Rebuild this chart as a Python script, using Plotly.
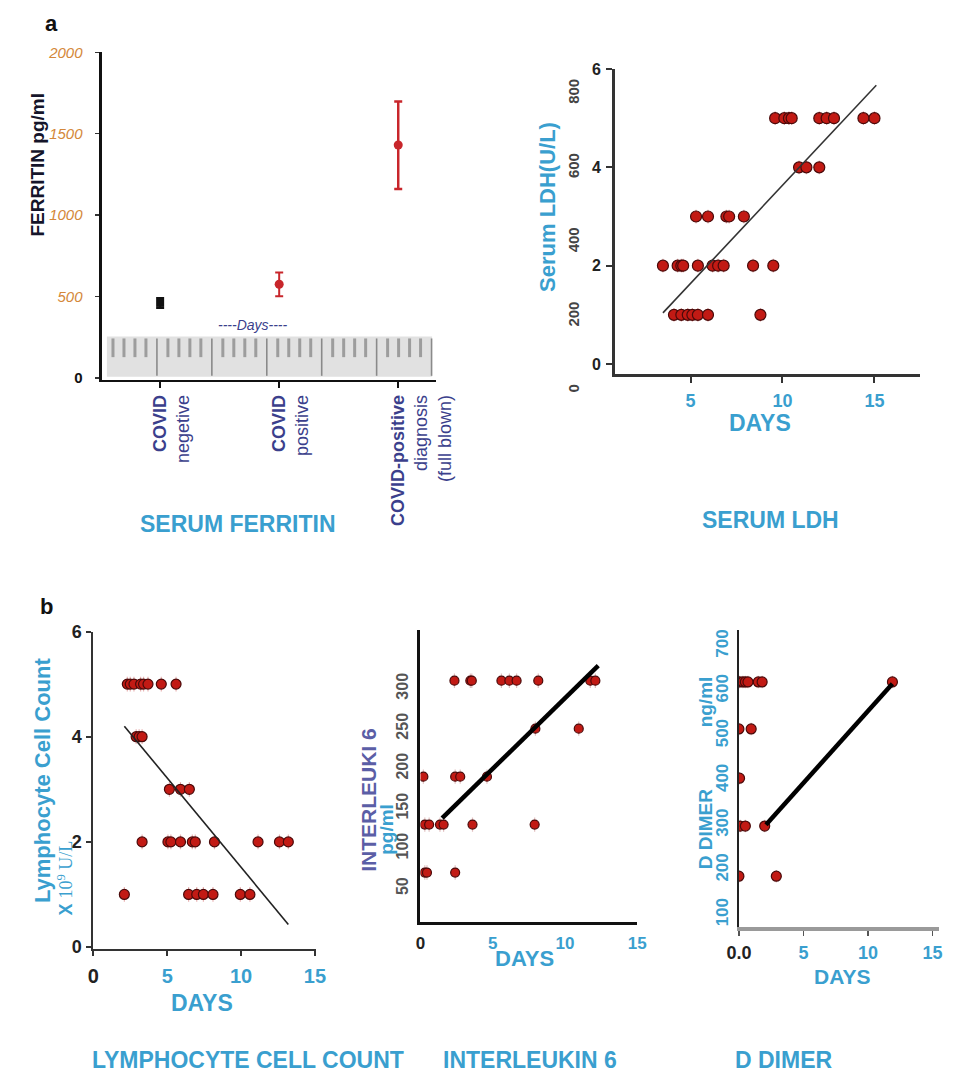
import plotly.graph_objects as go

W, H = 965, 1085

# ---------------- DATA ----------------
# Panel a (left): serum ferritin
ferritin_categories = ["<b>COVID</b><br>negetive",
                       "<b>COVID</b><br>positive",
                       "<b>COVID-positive</b><br>diagnosis<br>(full blown)"]
ferritin_mean = [460, 575, 1430]
ferritin_err_plus = [31, 72, 268]
ferritin_err_minus = [31, 74, 270]
ferritin_colors = ["#111111", "#c8262b", "#c8262b"]
ferritin_yticks = [0, 500, 1000, 1500, 2000]
ferritin_yticktext = ["0", "500", "1000", "1500", "2000"]

# Panel a (right): serum LDH
ldh_days = [9.6, 10.1, 10.35, 10.5, 12.0, 12.4, 12.8, 14.4, 15.0,
            10.9, 11.3, 12.0,
            5.3, 5.95, 6.95, 7.1, 7.9,
            3.5, 4.3, 4.5, 4.6, 5.4, 6.2, 6.5, 6.8, 8.4, 9.5,
            4.1, 4.5, 4.85, 5.1, 5.4, 5.95, 8.8]
ldh_vals = [5, 5, 5, 5, 5, 5, 5, 5, 5,
            4, 4, 4,
            3, 3, 3, 3, 3,
            2, 2, 2, 2, 2, 2, 2, 2, 2, 2,
            1, 1, 1, 1, 1, 1, 1]
ldh_fit_days = [3.5, 15.1]
ldh_fit_vals = [1.04, 5.67]
ldh_yticks = [0, 2, 4, 6]
ldh_xticks = [5, 10, 15]
ldh_u_ticks = [0, 200, 400, 600, 800]

# Panel b (left): lymphocyte count
lym_days = [2.3, 2.5, 2.75, 3.2, 3.4, 3.7, 4.6, 5.6,
            2.9, 3.1, 3.3,
            5.15, 5.9, 6.5,
            3.3, 5.05, 5.25, 5.9, 6.7, 6.9, 8.2, 11.15, 12.6, 13.2,
            2.1, 6.45, 7.0, 7.45, 8.1, 9.95, 10.6]
lym_vals = [5, 5, 5, 5, 5, 5, 5, 5,
            4, 4, 4,
            3, 3, 3,
            2, 2, 2, 2, 2, 2, 2, 2, 2, 2,
            1, 1, 1, 1, 1, 1, 1]
lym_fit_days = [2.1, 13.2]
lym_fit_vals = [4.2, 0.43]
lym_yticks = [0, 2, 4, 6]
lym_xticks = [0, 5, 10, 15]

# Panel b (middle): interleukin 6
il6_days = [2.35, 3.45, 3.55, 5.6, 6.15, 6.65, 8.15, 11.75, 12.1,
            7.95, 10.95,
            0.2, 2.4, 2.75, 4.6,
            0.3, 0.6, 1.35, 1.6, 3.6, 7.9,
            0.3, 0.45, 2.4]
il6_vals = [310, 310, 310, 310, 310, 310, 310, 310, 310,
            250, 250,
            190, 190, 190, 190,
            130, 130, 130, 130, 130, 130,
            70, 70, 70]
il6_fit_days = [1.5, 12.3]
il6_fit_vals = [138, 329]
il6_yticks = [50, 100, 150, 200, 250, 300]
il6_xticks = [0, 5, 10, 15]

# Panel b (right): D dimer
dd_days = [0.05, 0.3, 0.5, 0.7, 1.5, 1.8, 11.9,
           0.0, 0.95,
           0.05,
           0.1, 0.5, 2.0,
           0.0, 2.9]
dd_vals = [620, 620, 620, 620, 620, 620, 620,
           515, 515,
           405,
           298, 298, 298,
           186, 186]
dd_fit_days = [2.1, 11.9]
dd_fit_vals = [301, 616]
dd_yticks = [100, 200, 300, 400, 500, 600, 700]
dd_xticks = [0, 5, 10, 15]

# ---------------- HELPERS ----------------
def px(x):
    return x / W

def py(y):
    return 1 - y / H

def xdom(a, b):
    return [px(a), px(b)]

def ydom(top, bottom):
    return [py(bottom), py(top)]

CYAN = "#3a9fcf"
SLATE = "#3b3f8c"
RED = "#c21a14"
EDGE = "#4a0a0a"
BOLD = "Liberation Sans, Arial, sans-serif"
NARROW = "Liberation Sans Narrow, Arial Narrow, Liberation Sans, sans-serif"


def colored(vals, first_color, rest_color, fmt=str):
    out = []
    for i, v in enumerate(vals):
        c = first_color if i == 0 else rest_color
        out.append(f"<span style='color:{c}'><b>{fmt(v)}</b></span>")
    return out


def centred_first_line(label):
    # pad with blank lines so that the first line sits on the tick
    n_after = label.count("<br>")
    return "&nbsp;<br>" * n_after + label


fig = go.Figure()

# ---- Ferritin ----
fx = list(range(len(ferritin_categories)))
for i in fx:
    fig.add_trace(go.Scatter(
        x=[fx[i]], y=[ferritin_mean[i]], mode="markers",
        marker=dict(color=ferritin_colors[i], size=9 if i else 8,
                    symbol="square" if i == 0 else "circle"),
        error_y=dict(type="data", symmetric=False,
                     array=[ferritin_err_plus[i]], arrayminus=[ferritin_err_minus[i]],
                     color=ferritin_colors[i], thickness=2.5 if i == 2 else 2,
                     width=4),
        xaxis="x", yaxis="y", showlegend=False, cliponaxis=False))

# ---- LDH ----
fig.add_trace(go.Scatter(
    x=ldh_days, y=ldh_vals, mode="markers",
    marker=dict(color=RED, size=11, line=dict(color=EDGE, width=1.2)),
    error_y=dict(type="constant", value=0.14, color="rgba(215,120,120,0.55)",
                 thickness=1.2, width=0),
    xaxis="x2", yaxis="y2", showlegend=False))
fig.add_trace(go.Scatter(
    x=ldh_fit_days, y=ldh_fit_vals, mode="lines",
    line=dict(color="#333333", width=1.6),
    xaxis="x2", yaxis="y2", showlegend=False))

# ---- Lymphocyte ----
fig.add_trace(go.Scatter(
    x=lym_days, y=lym_vals, mode="markers",
    marker=dict(color=RED, size=10, line=dict(color=EDGE, width=1.2)),
    error_y=dict(type="constant", value=0.14, color="rgba(215,120,120,0.55)",
                 thickness=1.2, width=0),
    xaxis="x3", yaxis="y3", showlegend=False))
fig.add_trace(go.Scatter(
    x=lym_fit_days, y=lym_fit_vals, mode="lines",
    line=dict(color="#222222", width=1.6),
    xaxis="x3", yaxis="y3", showlegend=False))

# ---- IL-6 ----
fig.add_trace(go.Scatter(
    x=il6_days, y=il6_vals, mode="markers",
    marker=dict(color=RED, size=9, line=dict(color=EDGE, width=1.2)),
    error_y=dict(type="constant", value=9, color="rgba(200,140,140,0.55)",
                 thickness=1.2, width=0),
    xaxis="x4", yaxis="y4", showlegend=False))
fig.add_trace(go.Scatter(
    x=il6_fit_days, y=il6_fit_vals, mode="lines",
    line=dict(color="#000000", width=4.5),
    xaxis="x4", yaxis="y4", showlegend=False))

# ---- D dimer ----
fig.add_trace(go.Scatter(
    x=dd_days, y=dd_vals, mode="markers",
    marker=dict(color=RED, size=10, line=dict(color=EDGE, width=1.2)),
    error_y=dict(type="constant", value=14, color="rgba(200,140,140,0.55)",
                 thickness=1.2, width=0),
    xaxis="x5", yaxis="y5", showlegend=False))
fig.add_trace(go.Scatter(
    x=dd_fit_days, y=dd_fit_vals, mode="lines",
    line=dict(color="#000000", width=4.5),
    xaxis="x5", yaxis="y5", showlegend=False))

# ---- invisible carrier for the secondary LDH scale ----
fig.add_trace(go.Scatter(x=[None], y=[None], xaxis="x6", yaxis="y6",
                         showlegend=False, hoverinfo="skip"))

base = dict(showgrid=False, zeroline=False, fixedrange=True)

fig.update_layout(
    width=W, height=H, margin=dict(l=0, r=0, t=0, b=0),
    paper_bgcolor="white", plot_bgcolor="rgba(0,0,0,0)",
    font=dict(family=BOLD, color="#222"),
    showlegend=False, hovermode=False,
    # Ferritin
    xaxis=dict(base, domain=xdom(92, 437), range=[-0.488, 2.317], anchor="y",
               showline=True, linecolor="#111", linewidth=2,
               tickvals=fx,
               ticktext=[centred_first_line(c) for c in ferritin_categories],
               tickangle=-90,
               ticks="outside", ticklen=6, tickwidth=2, tickcolor="#111",
               tickfont=dict(size=18, color=SLATE, family=BOLD)),
    yaxis=dict(base, domain=ydom(43, 376), range=[-12, 2000], anchor="x",
               showline=True, linecolor="#111", linewidth=3.5,
               tickvals=ferritin_yticks,
               ticktext=["<span style='color:#111'><b>0</b></span>"] +
                        [f"<i>{t}</i>" for t in ferritin_yticktext[1:]],
               ticks="outside", ticklen=4, tickwidth=1.5, tickcolor="#333",
               ticklabelstandoff=9,
               tickfont=dict(size=15, color="#d4883a", family=BOLD)),
    # LDH
    xaxis2=dict(base, domain=xdom(622, 937), range=[0.895, 17.47], anchor="y2",
                showline=True, linecolor="#333", linewidth=3,
                tickvals=ldh_xticks, ticks="outside", ticklen=6, tickwidth=2,
                tickcolor="#333", ticklabelstandoff=3,
                tickfont=dict(size=18, color=CYAN, family=BOLD, weight="bold")),
    yaxis2=dict(base, domain=ydom(60, 370), range=[-0.2, 6], anchor="x2",
                showline=True, linecolor="#333", linewidth=3,
                tickvals=ldh_yticks, ticks="outside", ticklen=6, tickwidth=2,
                tickcolor="#333", ticklabelstandoff=2,
                tickfont=dict(size=16, color="#222", family=NARROW, weight="bold")),
    xaxis6=dict(base, domain=xdom(622, 937), range=[0, 1], anchor="y6",
                visible=False),
    yaxis6=dict(base, domain=ydom(70, 400),
                range=[(387 - 400) * 800 / 302, (387 - 70) * 800 / 302],
                anchor="x6", showline=False, ticks="", tickvals=ldh_u_ticks,
                tickangle=-90, ticklabelstandoff=32,
                tickfont=dict(size=15, color="#444", family=NARROW, weight="bold")),
    # Lymphocyte
    xaxis3=dict(base, domain=xdom(83, 313), range=[0, 15.07], anchor="y3",
                showline=True, linecolor="#333", linewidth=2,
                tickvals=lym_xticks, ticktext=colored(lym_xticks, "#222", CYAN),
                ticks="outside", ticklen=5, tickwidth=2, tickcolor="#333",
                ticklabelstandoff=3,
                tickfont=dict(size=20, family=NARROW)),
    yaxis3=dict(base, domain=ydom(632, 955), range=[-0.04, 6.0], anchor="x3",
                showline=True, linecolor="#333", linewidth=2,
                tickvals=lym_yticks, ticks="outside", ticklen=5, tickwidth=2,
                tickcolor="#333", ticklabelstandoff=1,
                tickfont=dict(size=18, color="#222", family=NARROW, weight="bold")),
    # IL-6
    xaxis4=dict(base, domain=xdom(421, 645), range=[0, 15], anchor="y4",
                showline=True, linecolor="#111", linewidth=3.5,
                tickvals=il6_xticks, ticktext=colored(il6_xticks, "#222", CYAN),
                ticks="", ticklabelstandoff=3,
                tickfont=dict(size=17, family=NARROW)),
    yaxis4=dict(base, domain=ydom(630, 927), range=[8.6, 374], anchor="x4",
                showline=True, linecolor="#111", linewidth=3.5,
                tickvals=il6_yticks, ticks="", tickangle=-90,
                ticklabelstandoff=3,
                tickfont=dict(size=16, color="#555", family=NARROW, weight="bold")),
    # D dimer
    xaxis5=dict(base, domain=xdom(750, 957), range=[0, 15.53], anchor="y5",
                showline=True, linecolor="#9a9a9a", linewidth=4,
                tickvals=dd_xticks,
                ticktext=colored(dd_xticks, "#222", CYAN, fmt=lambda v: "0.0" if v == 0 else str(v)),
                ticks="outside", ticklen=5, tickwidth=1.5, tickcolor="#555",
                ticklabelstandoff=2,
                tickfont=dict(size=18, family=NARROW)),
    yaxis5=dict(base, domain=ydom(630, 932), range=[73.6, 737], anchor="x5",
                showline=True, linecolor="#222", linewidth=1.5,
                tickvals=dd_yticks, ticks="", tickangle=-90,
                ticklabelstandoff=3,
                tickfont=dict(size=17, color=CYAN, family=BOLD, weight="bold")),
)

# ---- ruler inset on the ferritin panel (decoration) ----
shapes = [dict(type="rect", xref="paper", yref="paper",
               x0=px(97), x1=px(433), y0=py(373), y1=py(332),
               fillcolor="#e1e1e1", line=dict(width=0), layer="below")]
for i in range(30):
    xx = 103.3 + i * 11.35
    long_tick = (i % 5 == 4)
    shapes.append(dict(type="line", xref="paper", yref="paper",
                       x0=px(xx), x1=px(xx), y0=py(334),
                       y1=py(372 if long_tick else 353),
                       line=dict(color="#8a8a8a" if long_tick else "#9d9d9d",
                                 width=1.6 if long_tick else 3),
                       layer="below"))
fig.update_layout(shapes=shapes)


def ann(text, x, y, size, color, family=BOLD, angle=0, bold=True, italic=False):
    t = text
    if bold:
        t = f"<b>{t}</b>"
    if italic:
        t = f"<i>{t}</i>"
    return dict(text=t, x=px(x), y=py(y), xref="paper", yref="paper",
                showarrow=False, xanchor="center", yanchor="middle",
                textangle=angle, font=dict(size=size, color=color, family=family))


annotations = [
    ann("a", 40, 14, 22, "#111"),
    ann("b", 35, 607, 22, "#111"),
    ann("FERRITIN pg/ml", 25, 157, 19, "#15152a", angle=-90),
    ann("----Days----", 248, 320, 14, SLATE, bold=False, italic=True),
    ann("SERUM FERRITIN", 232, 523, 23, CYAN),
    ann("Serum LDH(U/L)", 552, 200, 22, CYAN, angle=-90),
    ann("DAYS", 772, 420, 23, CYAN),
    ann("SERUM LDH", 783, 519, 23, CYAN),
    ann("Lymphocyte Cell Count", 30, 783, 22, CYAN, angle=-90),
    ann("<b>X</b> <span style='font-family:Liberation Serif, serif'>10<sup>9</sup> U/L</span>",
        54, 883, 18, CYAN, angle=-90, bold=False),
    ann("DAYS", 195, 1010, 23, CYAN, family=NARROW),
    ann("LYMPHOCYTE CELL COUNT", 243, 1068, 23, CYAN, family=NARROW),
    ann("INTERLEUKI 6", 368, 803, 21, "#5b5ea6", angle=-90),
    ann("pg/ml", 386, 833, 19, CYAN, angle=-90),
    ann("DAYS", 528, 965, 22, CYAN, family=NARROW),
    ann("INTERLEUKIN 6", 534, 1068, 23, CYAN, family=NARROW),
    ann("ng/ml", 715, 704, 19, CYAN, angle=-90),
    ann("D DIMER", 715, 833, 19, CYAN, angle=-90),
    ann("DAYS", 857, 983, 21, CYAN, family=NARROW),
    ann("D DIMER", 797, 1068, 23, CYAN, family=NARROW),
]
fig.update_layout(annotations=annotations)

fig.write_html("out.html",
               config={"displayModeBar": False, "staticPlot": True},
               post_script="document.body.style.margin='0';"
                           "document.body.style.overflow='hidden';")
